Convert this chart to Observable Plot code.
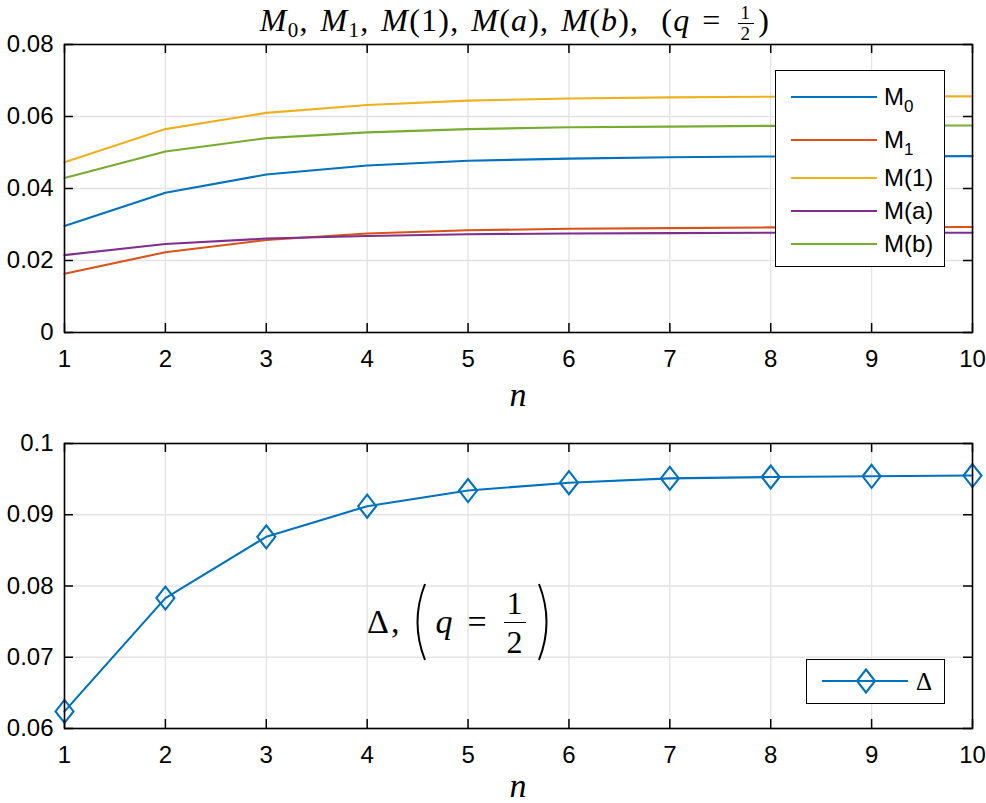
<!DOCTYPE html>
<html>
<head>
<meta charset="utf-8">
<script src="https://cdn.jsdelivr.net/npm/d3@7"></script>
<script src="https://cdn.jsdelivr.net/npm/@observablehq/plot@0.6"></script>
<style>
  html, body { margin: 0; padding: 0; background: #fff; }
  #wrap { position: relative; width: 986px; height: 803px; overflow: hidden; font-family: "Liberation Sans", Arial, sans-serif; }
  .abs { position: absolute; }
  .serif { font-family: "Liberation Serif", "Times New Roman", serif; color: #000; }
  .frac { display: inline-flex; flex-direction: column; align-items: center; vertical-align: middle; line-height: 1; }
  .frac .den { border-top: 1.3px solid #000; }
  .legend { position: absolute; background: #fff; border: 1.5px solid #000; box-sizing: border-box; }
  .lrow { position: absolute; left: 0; display: flex; align-items: center; }
  .lrow .sw { width: 86px; height: 0; border-top: 2.2px solid; margin-left: 15px; margin-right: 7px; }
  .lrow .lab { font-size: 24px; color: #000; line-height: 24px; }
  .lrow .lab sub { font-size: 17px; vertical-align: -7px; line-height: 0; }
  .tt sub { font-size: 21px; vertical-align: -6px; line-height: 0; }
</style>
</head>
<body>
<div id="wrap">
  <div id="top" class="abs" style="left:0;top:0"></div>
  <div id="bot" class="abs" style="left:0;top:415px"></div>
</div>
<script>
// ---------------- data ----------------
const n = [1, 2, 3, 4, 5, 6, 7, 8, 9, 10];
const seriesNames = ["M0", "M1", "M(1)", "M(a)", "M(b)"];
const seriesColors = ["#0072BD", "#D95319", "#EDB120", "#7E2F8E", "#77AC30"];
const M0 = [0.0296, 0.0388, 0.0439, 0.0464, 0.0477, 0.0483, 0.0487, 0.0489, 0.0489, 0.0490];
const M1 = [0.0163, 0.0223, 0.0257, 0.0275, 0.0284, 0.0288, 0.0290, 0.0292, 0.0292, 0.0293];
const M_1 = [0.0473, 0.0565, 0.0610, 0.0632, 0.0644, 0.0650, 0.0653, 0.0655, 0.0656, 0.0656];
const M_a = [0.0215, 0.0246, 0.0261, 0.0268, 0.0273, 0.0275, 0.0276, 0.0277, 0.0277, 0.0277];
const M_b = [0.0429, 0.0503, 0.0540, 0.0556, 0.0565, 0.0570, 0.0572, 0.0574, 0.0575, 0.0575];
const Delta = [0.0624, 0.0783, 0.0869, 0.0912, 0.0934, 0.0945, 0.0951, 0.0953, 0.0954, 0.0955];
const xTicks = [1, 2, 3, 4, 5, 6, 7, 8, 9, 10];
const yTicksTop = [0, 0.02, 0.04, 0.06, 0.08];
const yTicksBot = [0.06, 0.07, 0.08, 0.09, 0.1];
const deltaColor = "#0072BD";

// ---------------- helpers ----------------
const W = 986, ML = 64, MR = 14;
const innerW = W - ML - MR;
const gridColor = "#e3e3e3";
const fmt = d => d === 0 ? "0" : String(d);

const diamond = {
  draw(ctx) {
    ctx.moveTo(0, -11.5); ctx.lineTo(9, 0); ctx.lineTo(0, 11.5); ctx.lineTo(-9, 0); ctx.closePath();
  }
};

function gridMarks(yTicks) {
  return [
    Plot.gridX(xTicks, {stroke: gridColor, strokeOpacity: 1, strokeWidth: 1.3}),
    Plot.gridY(yTicks, {stroke: gridColor, strokeOpacity: 1, strokeWidth: 1.3})
  ];
}
function tickMarks(H, yTicks) {
  return [
    Plot.tickX(xTicks, {x: d => d, insetTop: H - 9, stroke: "#000", strokeWidth: 1.5}),
    Plot.tickX(xTicks, {x: d => d, insetBottom: H - 9, stroke: "#000", strokeWidth: 1.5}),
    Plot.tickY(yTicks, {y: d => d, insetRight: innerW - 9, stroke: "#000", strokeWidth: 1.5}),
    Plot.tickY(yTicks, {y: d => d, insetLeft: innerW - 9, stroke: "#000", strokeWidth: 1.5}),
    Plot.frame({stroke: "#000", strokeWidth: 1.6}),
    Plot.axisX(xTicks, {tickSize: 0, tickPadding: 17, label: null, fill: "#000"}),
    Plot.axisY(yTicks, {tickSize: 0, tickPadding: 11, tickFormat: fmt, label: null, fill: "#000"})
  ];
}
const style = {fontFamily: "'Liberation Sans', Arial, sans-serif", fontSize: "24px", color: "#000", background: "transparent", overflow: "visible"};

// ---------------- top plot ----------------
const seriesValues = [M0, M1, M_1, M_a, M_b];
const tidy = [];
seriesNames.forEach((s, i) => n.forEach((x, j) => tidy.push({n: x, value: seriesValues[i][j], series: s})));

const HT = 415, MTt = 44, MBt = 83;
const innerHT = HT - MTt - MBt;
const topPlot = Plot.plot({
  width: W, height: HT, marginLeft: ML, marginRight: MR, marginTop: MTt, marginBottom: MBt,
  style,
  x: {domain: [1, 10]},
  y: {domain: [0, 0.08]},
  color: {domain: seriesNames, range: seriesColors},
  marks: [
    ...gridMarks(yTicksTop),
    Plot.line(tidy, {x: "n", y: "value", z: "series", stroke: "series", strokeWidth: 2.1}),
    ...tickMarks(innerHT, yTicksTop)
  ]
});
document.getElementById("top").appendChild(topPlot);

// ---------------- bottom plot ----------------
const dData = n.map((x, i) => ({n: x, value: Delta[i]}));
const HB = 388, MTb = 28, MBb = 75;
const innerHB = HB - MTb - MBb;
const botPlot = Plot.plot({
  width: W, height: HB, marginLeft: ML, marginRight: MR, marginTop: MTb, marginBottom: MBb,
  style,
  x: {domain: [1, 10]},
  y: {domain: [0.06, 0.1]},
  marks: [
    ...gridMarks(yTicksBot),
    Plot.line(dData, {x: "n", y: "value", stroke: deltaColor, strokeWidth: 2.1}),
    Plot.dot(dData, {x: "n", y: "value", symbol: diamond, stroke: deltaColor, fill: "none", strokeWidth: 2.1}),
    ...tickMarks(innerHB, yTicksBot)
  ]
});
document.getElementById("bot").appendChild(botPlot);

// ---------------- overlays ----------------
const wrap = document.getElementById("wrap");
function add(html) { const t = document.createElement("div"); t.innerHTML = html; const el = t.firstElementChild; wrap.appendChild(el); return el; }

// title
const c = `<span style="margin-right:12px">,</span>`;
add(`<div class="abs serif tt" style="left:${ML - 3}px;width:${innerW}px;top:2px;text-align:center;font-size:32px;line-height:36px;white-space:nowrap;letter-spacing:1.2px">
<i>M</i><sub>0</sub>${c}<i>M</i><sub>1</sub>${c}<i>M</i>(1)${c}<i>M</i>(<i>a</i>)${c}<i>M</i>(<i>b</i>)<span style="margin-right:22px">,</span>(<i>q</i><span style="margin:0 12px">=</span><span class="frac" style="font-size:19px;margin:0 4px;line-height:0.95"><span style="padding:0 3px 1px">1</span><span class="den" style="padding:1px 3px 0">2</span></span>)</div>`);

// axis labels
add(`<div class="abs serif" style="left:${ML}px;width:${innerW}px;top:378px;text-align:center;font-size:34px;line-height:34px"><i>n</i></div>`);
add(`<div class="abs serif" style="left:${ML}px;width:${innerW}px;top:769px;text-align:center;font-size:34px;line-height:34px"><i>n</i></div>`);

// top legend
const rowTops = [97, 140, 178, 211, 244];
const leg = add(`<div class="legend" style="left:775px;top:70px;width:170px;height:197px"></div>`);
seriesNames.forEach((s, i) => {
  const lab = s.replace(/^M(\d)$/, "M<sub>$1</sub>");
  const r = document.createElement("div");
  r.className = "lrow";
  r.style.top = (rowTops[i] - 70 - 1.5 - 17) + "px";
  r.style.height = "34px";
  r.innerHTML = `<div class="sw" style="border-color:${seriesColors[i]}"></div><div class="lab">${lab}</div>`;
  leg.appendChild(r);
});

// bottom legend
add(`<div class="legend" style="left:806px;top:659px;width:139px;height:45px">
<svg width="139" height="45" style="position:absolute;left:-1.5px;top:-1.5px">
<line x1="16" x2="102" y1="22" y2="22" stroke="${deltaColor}" stroke-width="2.1"/>
<path d="M60,10.5 L69,22 L60,33.5 L51,22 Z" fill="none" stroke="${deltaColor}" stroke-width="2.1"/>
<text x="110" y="31" font-family="Liberation Serif" font-size="25" fill="#000">Δ</text>
</svg></div>`);

// annotation
add(`<div class="abs serif" style="left:367px;top:583px;height:78px;display:flex;align-items:center;font-size:34px;white-space:nowrap">
<span>Δ</span><span style="margin-left:2px">,</span>
<svg width="18" height="78" style="margin-left:12px"><path d="M14,1 Q-1,39 14,77" fill="none" stroke="#000" stroke-width="2"/></svg>
<span style="margin-left:6px"><i>q</i></span><span style="margin:0 15px">=</span>
<span class="frac" style="font-size:32px;margin-left:2px"><span style="padding:0 3px 3px">1</span><span class="den" style="padding:3px 3px 0">2</span></span>
<svg width="18" height="78" style="margin-left:9px"><path d="M4,1 Q19,39 4,77" fill="none" stroke="#000" stroke-width="2"/></svg>
</div>`);
</script>
</body>
</html>
